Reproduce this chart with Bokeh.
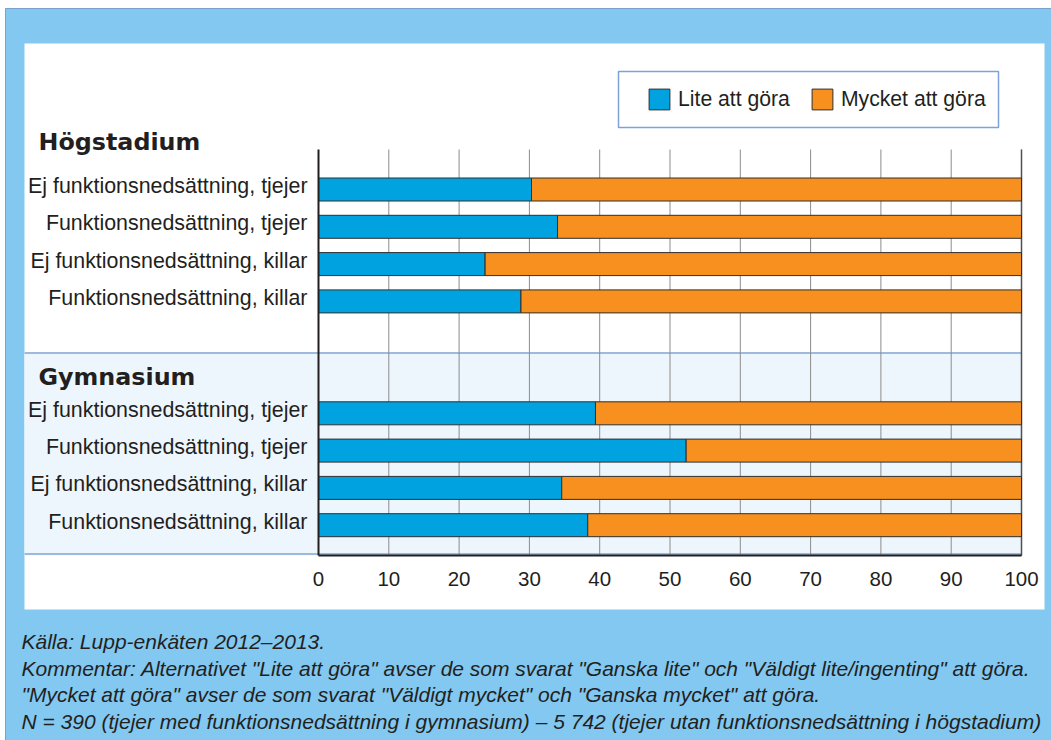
from bokeh.plotting import figure
from bokeh.models import (Range1d, FixedTicker, LinearAxis, BoxAnnotation, Label,
                          Legend, LegendItem, ColumnDataSource)
from bokeh.embed import file_html
from bokeh.resources import INLINE

# ---------------- data ----------------
groups = ["Högstadium", "Gymnasium"]
categories = [
    "Ej funktionsnedsättning, tjejer",
    "Funktionsnedsättning, tjejer",
    "Ej funktionsnedsättning, killar",
    "Funktionsnedsättning, killar",
]
lite_hogstadium = [30.3, 34.0, 23.7, 28.8]
mycket_hogstadium = [69.7, 66.0, 76.3, 71.2]
lite_gymnasium = [39.4, 52.3, 34.6, 38.3]
mycket_gymnasium = [60.6, 47.7, 65.4, 61.7]
series_names = ["Lite att göra", "Mycket att göra"]
x_ticks = [0, 10, 20, 30, 40, 50, 60, 70, 80, 90, 100]
notes = [
    "Källa: Lupp-enkäten 2012–2013.",
    "Kommentar: Alternativet \"Lite att göra\" avser de som svarat \"Ganska lite\" och \"Väldigt lite/ingenting\" att göra.",
    "\"Mycket att göra\" avser de som svarat \"Väldigt mycket\" och \"Ganska mycket\" att göra.",
    "N = 390 (tjejer med funktionsnedsättning i gymnasium) – 5 742 (tjejer utan funktionsnedsättning i högstadium)",
]

# ---------------- style / layout ----------------
BLUE = "#00A3E0"
ORANGE = "#F7901E"
OUTER = "#82C8F0"
BAND = "#EEF6FD"
BAND_LINE = "#9DB9DE"
TXT = "#231F20"
FONT = "Liberation Sans"

W, H = 1051, 740
X0_PX, X100_PX = 318, 1021     # canvas x of value 0 and 100
AX_TOP, AX_BOTTOM = 149, 555   # canvas y extent of the plotting area
ROW0, ROW_PX = 189.0, 37.3     # canvas y of first row centre, px per row
GROUP_GAP = 2
X_MAX = 100
X_PER_PX = X_MAX / (X100_PX - X0_PX)


def px(cx):
    return (cx - X0_PX) * X_PER_PX


def py(cy):
    return (cy - ROW0) / ROW_PX


pos, lite, mycket = [], [], []
for gi, (l_vals, m_vals) in enumerate([(lite_hogstadium, mycket_hogstadium),
                                        (lite_gymnasium, mycket_gymnasium)]):
    for i in range(len(categories)):
        pos.append(gi * (len(categories) + GROUP_GAP) + i)
        lite.append(l_vals[i])
        mycket.append(m_vals[i])

src = ColumnDataSource(dict(pos=pos, lite=lite, mycket=mycket))

p = figure(width=W, height=H, output_backend="svg", toolbar_location=None,
           x_range=Range1d(px(0), px(W)), y_range=Range1d(py(H), py(0)),
           y_axis_location=None, min_border=0)
p.outline_line_color = None
p.background_fill_color = "white"
p.border_fill_color = "white"
p.xgrid.visible = False
p.ygrid.visible = False

# light-blue outer panel
p.quad(left=px(5), right=px(W + 20), top=py(8), bottom=py(H + 20),
       fill_color=OUTER, line_color="#7C9FCB", line_width=1, level="underlay")
# white panel
p.quad(left=px(24), right=px(1044), top=py(43), bottom=py(609),
       fill_color="white", line_color=None, level="underlay")
# band behind gymnasium rows
p.quad(left=px(24), right=X_MAX, top=py(352.5), bottom=py(AX_BOTTOM),
       fill_color=BAND, line_color=None, level="underlay")
p.quad(left=px(24), right=X_MAX, top=py(351.5), bottom=py(353.5),
       fill_color=BAND_LINE, line_color=None, level="underlay")
p.quad(left=px(24), right=X_MAX, top=py(552.5), bottom=py(554.5),
       fill_color=BAND_LINE, line_color=None, level="underlay")
# vertical grid lines
p.segment(x0=x_ticks[1:], x1=x_ticks[1:], y0=py(AX_TOP), y1=py(AX_BOTTOM),
          line_color="#8C8C8C", line_width=1, level="underlay")
p.segment(x0=[X_MAX], x1=[X_MAX], y0=py(AX_TOP), y1=py(AX_BOTTOM),
          line_color="#505050", line_width=1.5, level="underlay")

bar_h = 23 / ROW_PX
r_blue, r_orange = p.hbar_stack(["lite", "mycket"], y="pos", height=bar_h,
                                source=src, fill_color=[BLUE, ORANGE],
                                line_color="#2E2E2E", line_width=1)

# x axis (fixed inside the canvas)
ax = p.xaxis[0]
ax.fixed_location = py(AX_BOTTOM)
ax.bounds = (0, X_MAX)
ax.ticker = FixedTicker(ticks=x_ticks)
ax.axis_line_color = TXT
ax.axis_line_width = 2
ax.major_tick_line_color = None
ax.minor_tick_line_color = None
ax.major_tick_out = 0
ax.major_tick_in = 0
ax.major_label_standoff = 16
ax.major_label_text_font = FONT
ax.major_label_text_font_size = "20.5px"
ax.major_label_text_color = TXT

# y axis with category labels
LABEL_SHIFT = 3.5 / ROW_PX
label_ticks = [v - LABEL_SHIFT for v in pos]
yax = LinearAxis(fixed_location=0, bounds=(py(AX_TOP), py(AX_BOTTOM)),
                 ticker=FixedTicker(ticks=label_ticks),
                 major_label_overrides={t: categories[k % len(categories)]
                                        for k, t in enumerate(label_ticks)},
                 axis_line_color=TXT, axis_line_width=2,
                 major_tick_line_color=None, minor_tick_line_color=None,
                 major_tick_out=0, major_tick_in=0, major_label_standoff=11,
                 major_label_text_font=FONT, major_label_text_font_size="21.4px",
                 major_label_text_color=TXT)
p.add_layout(yax, "left")

# legend frame + legend
p.add_layout(BoxAnnotation(left=px(618), right=px(998), top=py(71), bottom=py(127),
                           fill_color="white", fill_alpha=1, line_color="#7BA3DA",
                           line_width=1.5, line_alpha=1))
legend = Legend(items=[LegendItem(label=series_names[0], renderers=[r_blue]),
                       LegendItem(label=series_names[1], renderers=[r_orange])],
                orientation="horizontal", location=(646, H - 112),
                padding=0, margin=0, spacing=19, glyph_width=26, glyph_height=26,
                label_standoff=6, label_height=26,
                label_text_font=FONT, label_text_font_size="21.2px",
                label_text_color=TXT, border_line_color=None,
                background_fill_alpha=0)
p.add_layout(legend)

# group headers
for g, yy in zip(groups, [141.5, 376]):
    p.add_layout(Label(x=px(38), y=py(yy), text=g, text_font="DejaVu Sans",
                       text_font_style="bold", text_font_size="23.8px",
                       text_color=TXT, text_baseline="middle", text_align="left"))

# notes
for k, t in enumerate(notes):
    p.add_layout(Label(x=px(21), y=py(641 + 26.5 * k), text=t, text_font=FONT,
                       text_font_style="italic", text_font_size="21px",
                       text_color=TXT, text_baseline="middle", text_align="left"))

open("out.html", "w").write(file_html(p, INLINE))
